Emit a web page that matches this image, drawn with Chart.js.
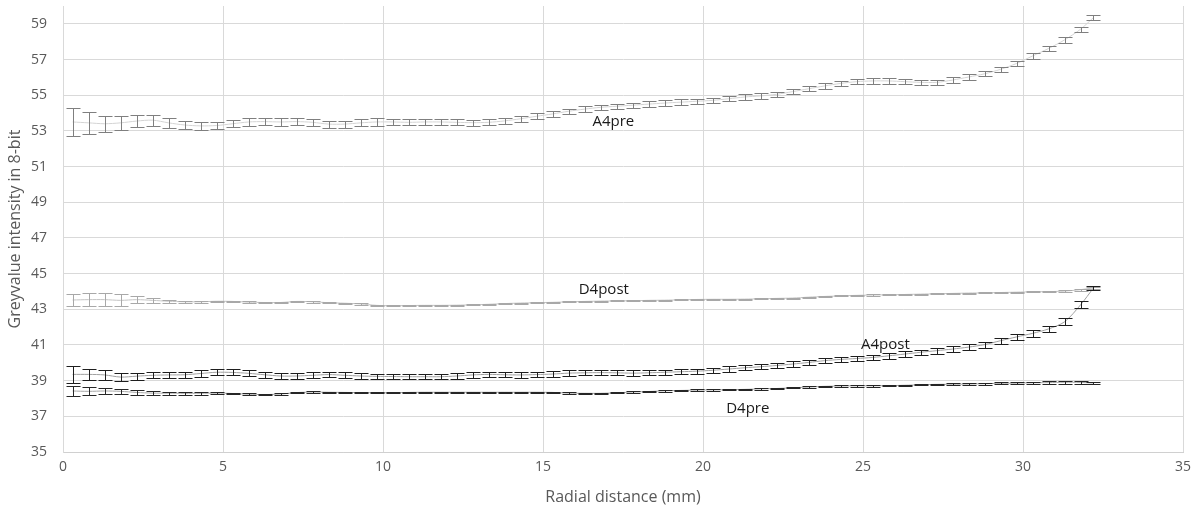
<!DOCTYPE html>
<html>
<head>
<meta charset="utf-8">
<script src="https://cdn.jsdelivr.net/npm/chart.js@4.4.1/dist/chart.umd.min.js"></script>
<style>
  html, body { margin: 0; padding: 0; background: #fff; }
  #caja { width: 1200px; height: 512px; }
</style>
</head>
<body>
<div id="caja"><canvas id="myChart" width="1200" height="512"></canvas></div>
<script>
// Distancia radial (mm) de cada punto
const distancia = [0.3, 0.8, 1.3, 1.8, 2.3, 2.8, 3.3, 3.8, 4.3, 4.8, 5.3, 5.8, 6.3, 6.8, 7.3, 7.8, 8.3, 8.8, 9.3, 9.8,
  10.3, 10.8, 11.3, 11.8, 12.3, 12.8, 13.3, 13.8, 14.3, 14.8, 15.3, 15.8, 16.3, 16.8, 17.3, 17.8, 18.3, 18.8, 19.3, 19.8,
  20.3, 20.8, 21.3, 21.8, 22.3, 22.8, 23.3, 23.8, 24.3, 24.8, 25.3, 25.8, 26.3, 26.8, 27.3, 27.8, 28.3, 28.8, 29.3, 29.8,
  30.3, 30.8, 31.3, 31.8, 32.2];

// A4pre: media y error
const a4pre = [53.5, 53.45, 53.4, 53.45, 53.55, 53.6, 53.45, 53.33, 53.28, 53.3, 53.4, 53.5, 53.52, 53.5, 53.52, 53.48, 53.38, 53.38, 53.45, 53.5,
  53.5, 53.48, 53.5, 53.5, 53.48, 53.46, 53.48, 53.56, 53.68, 53.82, 53.95, 54.1, 54.22, 54.32, 54.38, 54.44, 54.5, 54.56, 54.61, 54.66,
  54.71, 54.8, 54.9, 54.96, 55.05, 55.2, 55.36, 55.52, 55.66, 55.76, 55.8, 55.8, 55.76, 55.72, 55.72, 55.85, 56.02, 56.2, 56.45, 56.78,
  57.2, 57.62, 58.1, 58.7, 59.35];
const a4preErr = [0.8, 0.62, 0.45, 0.38, 0.33, 0.3, 0.27, 0.25, 0.23, 0.22, 0.2, 0.2, 0.2, 0.2, 0.2, 0.2, 0.2, 0.2, 0.2, 0.2,
  0.17, 0.17, 0.17, 0.17, 0.17, 0.17, 0.17, 0.17, 0.16, 0.16, 0.15, 0.15, 0.15, 0.15, 0.15, 0.15, 0.15, 0.15, 0.15, 0.15,
  0.15, 0.15, 0.15, 0.15, 0.15, 0.15, 0.15, 0.15, 0.15, 0.15, 0.15, 0.15, 0.15, 0.15, 0.15, 0.15, 0.15, 0.15, 0.15, 0.15,
  0.15, 0.15, 0.15, 0.15, 0.15];

// D4post
const d4post = [43.52, 43.54, 43.54, 43.5, 43.54, 43.5, 43.45, 43.42, 43.42, 43.45, 43.44, 43.4, 43.38, 43.38, 43.44, 43.42, 43.37, 43.34, 43.3, 43.22,
  43.2, 43.21, 43.22, 43.22, 43.23, 43.25, 43.28, 43.32, 43.35, 43.37, 43.39, 43.42, 43.44, 43.46, 43.47, 43.48, 43.5, 43.51, 43.53, 43.55,
  43.56, 43.56, 43.57, 43.59, 43.61, 43.63, 43.68, 43.72, 43.75, 43.78, 43.8, 43.81, 43.83, 43.85, 43.87, 43.89, 43.91, 43.92, 43.94, 43.96,
  43.98, 43.99, 44.02, 44.1, 44.2];
const d4postErr = [0.34, 0.36, 0.36, 0.33, 0.2, 0.13, 0.08, 0.05, 0.04, 0.04, 0.04, 0.04, 0.04, 0.04, 0.04, 0.04, 0.04, 0.04, 0.04, 0.04,
  0.03, 0.03, 0.03, 0.03, 0.03, 0.03, 0.03, 0.03, 0.03, 0.03, 0.03, 0.03, 0.03, 0.03, 0.03, 0.03, 0.03, 0.03, 0.03, 0.03,
  0.03, 0.03, 0.03, 0.03, 0.03, 0.03, 0.03, 0.03, 0.03, 0.03, 0.03, 0.03, 0.03, 0.03, 0.03, 0.03, 0.03, 0.03, 0.03, 0.03,
  0.03, 0.03, 0.04, 0.05, 0.05];

// A4post
const a4post = [39.35, 39.35, 39.32, 39.2, 39.25, 39.3, 39.32, 39.33, 39.4, 39.47, 39.46, 39.41, 39.33, 39.26, 39.26, 39.3, 39.34, 39.3, 39.26, 39.24,
  39.23, 39.22, 39.22, 39.22, 39.26, 39.32, 39.35, 39.33, 39.32, 39.34, 39.37, 39.42, 39.44, 39.45, 39.44, 39.42, 39.44, 39.47, 39.5, 39.53,
  39.58, 39.65, 39.72, 39.78, 39.85, 39.93, 40.02, 40.12, 40.19, 40.24, 40.3, 40.39, 40.49, 40.59, 40.68, 40.77, 40.88, 41.02, 41.24, 41.45,
  41.65, 41.9, 42.3, 43.25, 44.19];
const a4postErr = [0.48, 0.32, 0.27, 0.22, 0.2, 0.18, 0.17, 0.17, 0.17, 0.17, 0.17, 0.17, 0.16, 0.16, 0.16, 0.16, 0.16, 0.16, 0.16, 0.16,
  0.15, 0.15, 0.15, 0.15, 0.15, 0.15, 0.15, 0.15, 0.15, 0.15, 0.15, 0.15, 0.15, 0.15, 0.15, 0.15, 0.15, 0.15, 0.15, 0.15,
  0.15, 0.15, 0.15, 0.15, 0.15, 0.15, 0.15, 0.15, 0.15, 0.15, 0.15, 0.15, 0.15, 0.15, 0.16, 0.16, 0.16, 0.17, 0.17, 0.17,
  0.18, 0.18, 0.19, 0.2, 0.12];

// D4pre
const d4pre = [38.42, 38.4, 38.42, 38.4, 38.34, 38.3, 38.3, 38.29, 38.29, 38.3, 38.28, 38.24, 38.22, 38.25, 38.33, 38.36, 38.35, 38.34, 38.33, 38.32,
  38.32, 38.34, 38.35, 38.35, 38.35, 38.35, 38.35, 38.35, 38.35, 38.35, 38.34, 38.3, 38.29, 38.29, 38.32, 38.36, 38.39, 38.43, 38.45, 38.47,
  38.48, 38.49, 38.51, 38.54, 38.56, 38.6, 38.64, 38.68, 38.7, 38.71, 38.71, 38.72, 38.74, 38.77, 38.79, 38.8, 38.81, 38.83, 38.85, 38.86,
  38.88, 38.89, 38.91, 38.9, 38.87];
const d4preErr = [0.3, 0.22, 0.16, 0.13, 0.12, 0.1, 0.09, 0.08, 0.07, 0.06, 0.05, 0.04, 0.04, 0.04, 0.04, 0.04, 0.04, 0.04, 0.04, 0.04,
  0.04, 0.04, 0.04, 0.04, 0.04, 0.04, 0.04, 0.04, 0.04, 0.04, 0.04, 0.04, 0.04, 0.04, 0.04, 0.04, 0.04, 0.04, 0.04, 0.04,
  0.04, 0.04, 0.04, 0.04, 0.04, 0.04, 0.04, 0.04, 0.04, 0.04, 0.04, 0.04, 0.04, 0.04, 0.04, 0.04, 0.05, 0.05, 0.05, 0.05,
  0.06, 0.07, 0.08, 0.08, 0.06];

// Etiquetas de las series (texto y posición en unidades de datos)
const etiquetas = ['A4pre', 'D4post', 'A4post', 'D4pre'];
const etiquetaX = [17.2, 16.9, 25.7, 21.4];
const etiquetaY = [53.5, 44.08, 41.0, 37.4];

// Marcas de los ejes
const ticksX = [0, 5, 10, 15, 20, 25, 30, 35];
const ticksY = [35, 37, 39, 41, 43, 45, 47, 49, 51, 53, 55, 57, 59];

const fuente = '"Open Sans", "DejaVu Sans", sans-serif';

// convertir arrays a puntos {x, y}
const aPuntos = (valores) => valores.map((v, i) => ({ x: distancia[i], y: v }));

const series = [
  { label: 'A4pre', valores: a4pre, errores: a4preErr, linea: '#d4d4d4', error: '#7f7f7f' },
  { label: 'D4post', valores: d4post, errores: d4postErr, linea: '#c4c4c4', error: '#a8a8a8' },
  { label: 'A4post', valores: a4post, errores: a4postErr, linea: '#a0a0a0', error: '#1e1e1e' },
  { label: 'D4pre', valores: d4pre, errores: d4preErr, linea: '#a6a6a6', error: '#262626' },
];

const datasets = series.map((s) => ({
  label: s.label,
  data: aPuntos(s.valores),
  errores: s.errores,
  colorError: s.error,
  borderColor: s.linea,
  borderWidth: 1,
  pointRadius: 0,
  tension: 0.3,
  fill: false,
}));

// plugin barras de error
const barrasError = {
  id: 'barrasError',
  afterDatasetsDraw(chart) {
    const { ctx, scales: { x, y } } = chart;
    const medio = 7; // mitad del ancho del remate
    ctx.save();
    ctx.lineWidth = 1;
    chart.data.datasets.forEach((ds) => {
      ctx.strokeStyle = ds.colorError;
      ds.data.forEach((p, i) => {
        const e = ds.errores[i];
        const px = Math.round(x.getPixelForValue(p.x)) + 0.5;
        const arriba = Math.round(y.getPixelForValue(p.y + e)) + 0.5;
        const abajo = Math.round(y.getPixelForValue(p.y - e)) + 0.5;
        ctx.beginPath();
        ctx.moveTo(px, arriba);
        ctx.lineTo(px, abajo);
        ctx.moveTo(px - medio, arriba);
        ctx.lineTo(px + medio, arriba);
        ctx.moveTo(px - medio, abajo);
        ctx.lineTo(px + medio, abajo);
        ctx.stroke();
      });
    });
    ctx.restore();
  },
};

// plugin etiquetas de texto
const textos = {
  id: 'textos',
  afterDraw(chart) {
    const { ctx, scales: { x, y } } = chart;
    ctx.save();
    ctx.font = '15px ' + fuente;
    ctx.fillStyle = '#1a1a1a';
    ctx.textAlign = 'center';
    ctx.textBaseline = 'middle';
    etiquetas.forEach((t, i) => {
      ctx.fillText(t, x.getPixelForValue(etiquetaX[i]), y.getPixelForValue(etiquetaY[i]));
    });
    ctx.restore();
  },
};

const config = {
  type: 'line',
  data: { datasets },
  options: {
    responsive: false,
    animation: false,
    devicePixelRatio: 1,
    layout: { padding: { left: 0, right: 17, top: 6, bottom: 0 } },
    plugins: { legend: { display: false }, tooltip: { enabled: false } },
    scales: {
      x: {
        type: 'linear',
        min: 0,
        max: 35,
        afterBuildTicks: (axis) => { axis.ticks = ticksX.map((v) => ({ value: v })); },
        afterFit: (axis) => {
          axis.height = 60;
          axis.paddingLeft = 0;
          axis.paddingRight = 0;
        },
        grid: { color: '#d9d9d9', drawTicks: false },
        border: { color: '#d0d0d0' },
        ticks: { padding: 7, color: '#595959', font: { family: fuente, size: 14 } },
        title: {
          display: true,
          text: 'Radial distance (mm)',
          color: '#595959',
          font: { family: fuente, size: 16 },
          padding: { top: 0, bottom: 5 },
        },
      },
      y: {
        type: 'linear',
        min: 35,
        max: 60,
        afterBuildTicks: (axis) => { axis.ticks = ticksY.map((v) => ({ value: v })); },
        afterFit: (axis) => {
          axis.width = 63;
          axis.paddingTop = 0;
          axis.paddingBottom = 0;
        },
        grid: { color: '#d9d9d9', drawTicks: false },
        border: { color: '#d9d9d9' },
        ticks: { padding: 16, color: '#595959', font: { family: fuente, size: 14 } },
        title: {
          display: true,
          text: 'Greyvalue intensity in 8-bit',
          color: '#595959',
          font: { family: fuente, size: 16 },
          padding: { top: 6, bottom: 0 },
        },
      },
    },
  },
  plugins: [barrasError, textos],
};

const myChart = new Chart(document.getElementById('myChart'), config);
</script>
</body>
</html>
